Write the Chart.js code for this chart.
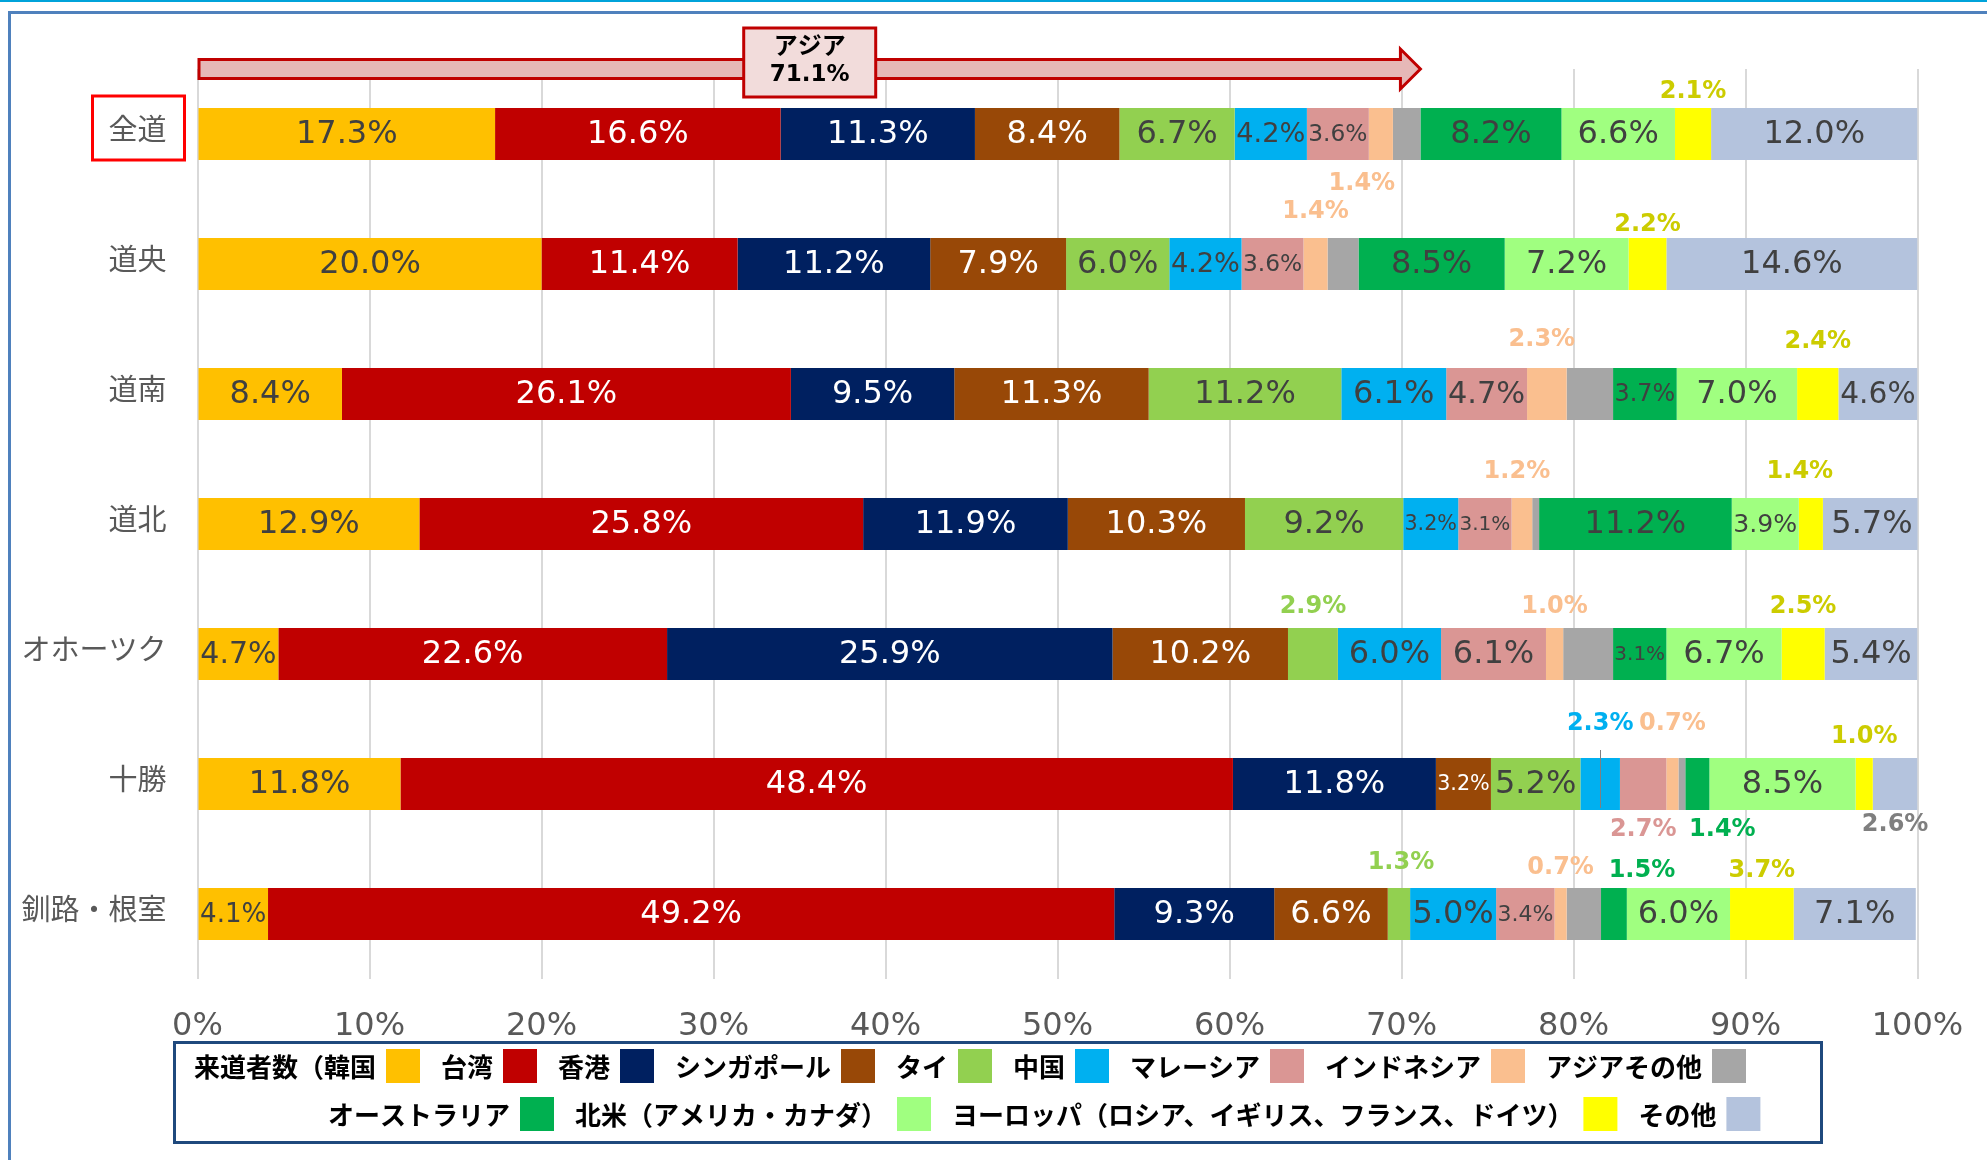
<!DOCTYPE html>
<html lang="ja">
<head>
<meta charset="utf-8">
<title>地域別 来道者数の国・地域別構成比</title>
<script src="https://cdn.jsdelivr.net/npm/chart.js@4.4.1/dist/chart.umd.min.js"></script>
<style>
  html, body { margin: 0; padding: 0; background: #fff; }
  #wrap { position: relative; width: 1987px; height: 1160px; }
</style>
</head>
<body>
<div id="wrap"><canvas id="myChart" width="1987" height="1160"></canvas></div>
<script>
// regions (rows)
var regions = ['全道', '道央', '道南', '道北', 'オホーツク', '十勝', '釧路・根室'];

// legend labels, in stacking order
var seriesNames = ['来道者数（韓国', '台湾', '香港', 'シンガポール', 'タイ', '中国', 'マレーシア',
  'インドネシア', 'アジアその他', 'オーストラリア', '北米（アメリカ・カナダ）',
  'ヨーロッパ（ロシア、イギリス、フランス、ドイツ）', 'その他'];

// share (%) by region, one array per country
var korea        = [17.3, 20.0,  8.4, 12.9,  4.7, 11.8,  4.1];
var taiwan       = [16.6, 11.4, 26.1, 25.8, 22.6, 48.4, 49.2];
var hongkong     = [11.3, 11.2,  9.5, 11.9, 25.9, 11.8,  9.3];
var singapore    = [ 8.4,  7.9, 11.3, 10.3, 10.2,  3.2,  6.6];
var thailand     = [ 6.7,  6.0, 11.2,  9.2,  2.9,  5.2,  1.3];
var china        = [ 4.2,  4.2,  6.1,  3.2,  6.0,  2.3,  5.0];
var malaysia     = [ 3.6,  3.6,  4.7,  3.1,  6.1,  2.7,  3.4];
var indonesia    = [ 1.4,  1.4,  2.3,  1.2,  1.0,  0.7,  0.7];
var otherAsia    = [ 1.6,  1.8,  2.7,  0.4,  2.9,  0.4,  2.0];
var australia    = [ 8.2,  8.5,  3.7, 11.2,  3.1,  1.4,  1.5];
var northAmerica = [ 6.6,  7.2,  7.0,  3.9,  6.7,  8.5,  6.0];
var europe       = [ 2.1,  2.2,  2.4,  1.4,  2.5,  1.0,  3.7];
var others       = [12.0, 14.6,  4.6,  5.7,  5.4,  2.6,  7.1];

var xTicks = [0, 10, 20, 30, 40, 50, 60, 70, 80, 90, 100];

var seriesValues = [korea, taiwan, hongkong, singapore, thailand, china, malaysia,
  indonesia, otherAsia, australia, northAmerica, europe, others];
var ASIA_COUNT = 9;

var COLORS = ['#FFC000', '#C00000', '#002060', '#984807', '#92D050', '#00B0F0', '#DA9694',
  '#FABF8F', '#A6A6A6', '#00B050', '#A0FF80', '#FFFF00', '#B4C3DD'];
var INSIDE_TEXT = ['#404040', '#fff', '#fff', '#fff', '#404040', '#404040', '#404040',
  '#404040', '#404040', '#404040', '#404040', '#404040', '#404040'];
var OUTSIDE_TEXT = ['#404040', '#C00000', '#002060', '#984807', '#92D050', '#00B0F0', '#DA9694',
  '#FABF8F', '#7F7F7F', '#00B050', '#7FD060', '#CCCC00', '#7F7F7F'];

// labels drawn outside the bar: "row-series" -> [dx, dy from bar centre, leader line]
var outsideLabels = {
  '0-11': [0, -42], '0-7': [-19, 50],
  '1-7': [0, -52], '1-11': [0, -39],
  '2-7': [-5, -54], '2-11': [0, -52],
  '3-7': [-5, -52], '3-11': [-11, -52],
  '4-4': [0, -47], '4-7': [0, -47], '4-11': [0, -47],
  '5-5': [0, -60, true], '5-7': [0, -60], '5-11': [0, -47],
  '5-6': [0, 46], '5-9': [25, 46], '5-12': [0, 41],
  '6-4': [2, -51], '6-7': [0, -46], '6-9': [28, -43], '6-11': [0, -43]
};

var NUM_FONT = "'DejaVu Sans', sans-serif";
var JP_FONT = "'Noto Sans CJK JP', 'Noto Sans', sans-serif";

var datasets = [];
for (var i = 0; i < seriesValues.length; i++) {
  datasets.push({
    label: seriesNames[i],
    data: seriesValues[i],
    backgroundColor: COLORS[i],
    borderWidth: 0,
    barPercentage: 0.4,
    categoryPercentage: 1.0
  });
}

var framePlugin = {
  id: 'frame',
  beforeDraw: function(chart) {
    var ctx = chart.ctx;
    ctx.save();
    ctx.fillStyle = '#fff';
    ctx.fillRect(0, 0, chart.width, chart.height);
    ctx.fillStyle = '#00A3DA';
    ctx.fillRect(0, 0, chart.width, 2);
    ctx.strokeStyle = '#4F81BD';
    ctx.lineWidth = 3;
    ctx.strokeRect(9.5, 12.5, chart.width + 40, chart.height + 40);
    ctx.restore();
  }
};

var labelPlugin = {
  id: 'barLabels',
  afterDatasetsDraw: function(chart) {
    var ctx = chart.ctx;
    ctx.save();
    ctx.textAlign = 'center';
    ctx.textBaseline = 'middle';
    chart.data.datasets.forEach(function(ds, i) {
      if (i === 8) return;
      var meta = chart.getDatasetMeta(i);
      meta.data.forEach(function(bar, j) {
        var v = ds.data[j];
        var txt = v.toFixed(1) + '%';
        var cx = (bar.x + bar.base) / 2, cy = bar.y;
        var off = outsideLabels[j + '-' + i];
        if (off) {
          if (off[2]) {
            ctx.strokeStyle = '#808080';
            ctx.lineWidth = 1;
            ctx.beginPath();
            ctx.moveTo(Math.round(cx) + 0.5, cy - 34);
            ctx.lineTo(Math.round(cx) + 0.5, cy + 24);
            ctx.stroke();
          }
          ctx.font = 'bold 24px ' + NUM_FONT;
          ctx.fillStyle = OUTSIDE_TEXT[i];
          ctx.fillText(txt, cx + off[0], cy + off[1]);
        } else {
          var w = Math.abs(bar.x - bar.base);
          var size = Math.min(32, w / 2.66);
          ctx.font = size.toFixed(1) + 'px ' + NUM_FONT;
          ctx.fillStyle = INSIDE_TEXT[i];
          ctx.fillText(txt, cx, cy + 1);
        }
      });
    });
    ctx.restore();
  }
};

var asiaPlugin = {
  id: 'asiaArrow',
  afterDraw: function(chart) {
    var ctx = chart.ctx, xs = chart.scales.x, ys = chart.scales.y;
    var area = chart.chartArea;
    var total = 0;
    for (var i = 0; i < ASIA_COUNT; i++) total += seriesValues[i][0];
    total = Math.round(total * 10) / 10;
    var x0 = xs.getPixelForValue(0) + 1.5, x1 = xs.getPixelForValue(total);
    var yc = area.top, sh = 9.5, hh = 20, hl = 20;
    ctx.save();
    ctx.beginPath();
    ctx.moveTo(x0, yc - sh);
    ctx.lineTo(x1 - hl, yc - sh);
    ctx.lineTo(x1 - hl, yc - hh);
    ctx.lineTo(x1, yc);
    ctx.lineTo(x1 - hl, yc + hh);
    ctx.lineTo(x1 - hl, yc + sh);
    ctx.lineTo(x0, yc + sh);
    ctx.closePath();
    ctx.fillStyle = '#E6B8B7';
    ctx.fill();
    ctx.strokeStyle = '#C00000';
    ctx.lineWidth = 3;
    ctx.stroke();

    var bx = (x0 + x1) / 2;
    ctx.fillStyle = '#F2DCDB';
    ctx.fillRect(bx - 66, yc - 41, 132, 69);
    ctx.lineWidth = 3;
    ctx.strokeRect(bx - 66, yc - 41, 132, 69);
    ctx.fillStyle = '#000';
    ctx.textAlign = 'center';
    ctx.textBaseline = 'middle';
    ctx.font = 'bold 24px ' + JP_FONT;
    ctx.fillText('アジア', bx, yc - 24);
    ctx.font = 'bold 23px ' + NUM_FONT;
    ctx.fillText(total.toFixed(1) + '%', bx, yc + 6);

    // red box round the first region label
    var y0 = ys.getPixelForValue(0);
    ctx.strokeStyle = '#FF0000';
    ctx.lineWidth = 3;
    ctx.strokeRect(area.left - 105, y0 - 38, 92, 64);
    ctx.restore();
  }
};

var legendPlugin = {
  id: 'bottomLegend',
  afterDraw: function(chart) {
    var ctx = chart.ctx;
    ctx.save();
    ctx.strokeStyle = '#1F497D';
    ctx.lineWidth = 3;
    ctx.strokeRect(174.5, 1042.5, 1647, 100);
    ctx.font = 'bold 26px ' + JP_FONT;
    ctx.textBaseline = 'middle';
    ctx.textAlign = 'left';
    var rows = [[0, 9, 194, 1066], [9, 13, 328, 1114]];
    rows.forEach(function(r) {
      var x = r[2], y = r[3];
      for (var i = r[0]; i < r[1]; i++) {
        ctx.fillStyle = '#000';
        ctx.fillText(seriesNames[i], x, y + 1);
        x += ctx.measureText(seriesNames[i]).width + 10;
        ctx.fillStyle = COLORS[i];
        ctx.fillRect(x, y - 17, 34, 34);
        x += 34 + 21;
      }
    });
    ctx.restore();
  }
};

new Chart('myChart', {
  type: 'bar',
  data: {
    labels: regions,
    datasets: datasets
  },
  options: {
    indexAxis: 'y',
    responsive: false,
    animation: false,
    devicePixelRatio: 1,
    layout: { padding: { top: 69, right: 69.5, bottom: 0, left: 0 } },
    plugins: {
      legend: { display: false },
      tooltip: { enabled: false },
      title: { display: false }
    },
    scales: {
      x: {
        stacked: true,
        min: 0,
        max: 100,
        afterFit: function(scale) { scale.height = 181; },
        afterBuildTicks: function(scale) {
          scale.ticks = xTicks.map(function(v) { return { value: v }; });
        },
        ticks: {
          padding: 0,
          color: '#595959',
          font: { family: NUM_FONT, size: 32 },
          callback: function(v) { return v + '%'; }
        },
        grid: { color: '#D9D9D9', lineWidth: 2, drawTicks: true, tickLength: 28, tickColor: 'rgba(0,0,0,0)' },
        border: { display: false }
      },
      y: {
        stacked: true,
        afterFit: function(scale) { scale.width = 197.5; },
        ticks: {
          padding: 31,
          labelOffset: -5,
          color: '#595959',
          font: { family: JP_FONT, size: 29 }
        },
        grid: { display: false, drawTicks: false },
        border: { display: false }
      }
    }
  },
  plugins: [framePlugin, labelPlugin, asiaPlugin, legendPlugin]
});
</script>
</body>
</html>
